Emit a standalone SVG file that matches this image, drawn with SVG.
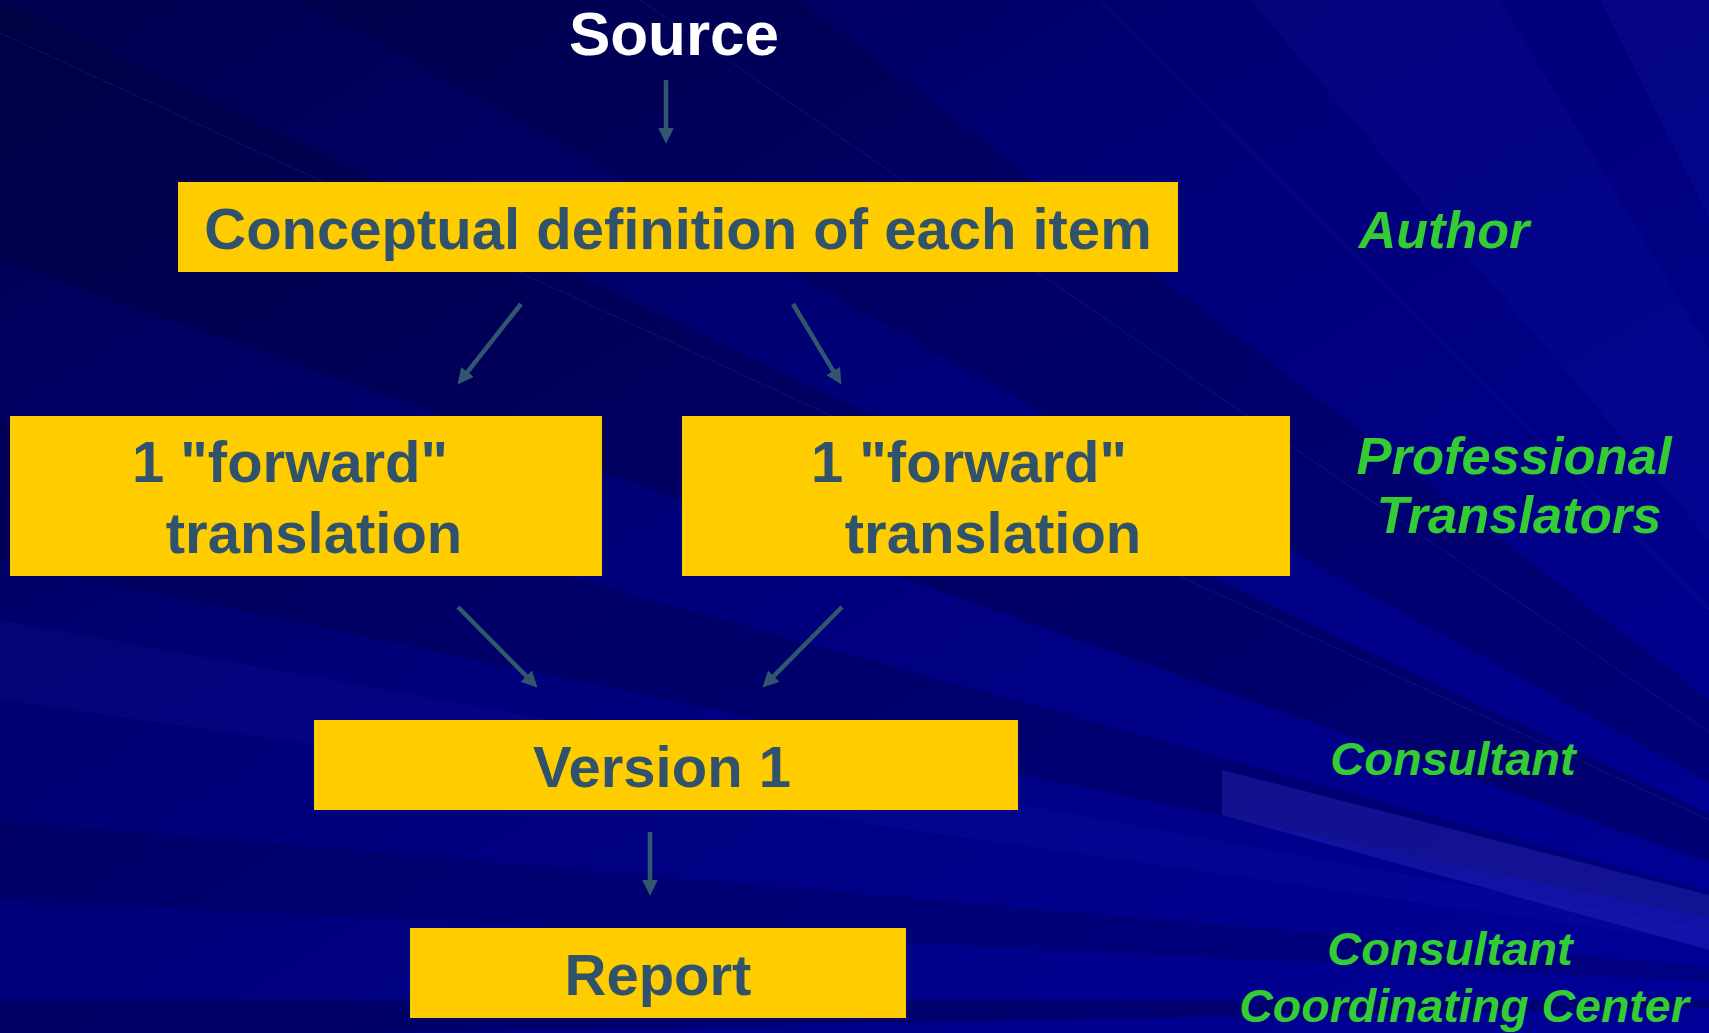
<svg xmlns="http://www.w3.org/2000/svg" width="1709" height="1033" viewBox="0 0 1709 1033">
  <defs>
    <linearGradient id="bg" x1="0" y1="0" x2="1" y2="1">
      <stop offset="0" stop-color="#00004e"/>
      <stop offset="0.45" stop-color="#00007a"/>
      <stop offset="1" stop-color="#000098"/>
    </linearGradient>
    <marker id="ah" viewBox="0 0 15 15" markerWidth="16" markerHeight="16" refX="5" refY="7.5" orient="auto" markerUnits="userSpaceOnUse">
      <path d="M0,0 L15,7.5 L0,15 z" fill="#33566f"/>
    </marker>
    <style>
      .box { fill: #ffcc00; }
      .t { font-family: "Liberation Sans", Arial, sans-serif; font-weight: bold; fill: #31526b; text-anchor: middle; font-size: 58px; }
      .src { font-family: "Liberation Sans", Arial, sans-serif; font-weight: bold; fill: #ffffff; text-anchor: middle; font-size: 62px; }
      .role { font-family: "Liberation Sans", Arial, sans-serif; font-weight: bold; font-style: italic; fill: #33cc33; text-anchor: middle; }
      .conn line { stroke: #33566f; stroke-width: 4.5; marker-end: url(#ah); }
    </style>
  </defs>

  <!-- background -->
  <rect x="0" y="0" width="1709" height="1033" fill="url(#bg)"/>
  <g id="background-rays">
    <polygon points="2100,1000 0,0 0,260" fill="#000030" opacity="0.3"/>
    <polygon points="2100,1000 300,0 800,0" fill="#000030" opacity="0.25"/>
    <polygon points="2100,1000 1250,0 1500,0" fill="#2a2ad0" opacity="0.1"/>
    <polygon points="2100,1000 1600,0 1709,0 1709,80" fill="#2a2ad0" opacity="0.12"/>
    <polygon points="2100,1000 0,420 0,560" fill="#000030" opacity="0.25"/>
    <polygon points="2100,1000 0,620 0,700" fill="#2a2ad0" opacity="0.1"/>
    <polygon points="2100,1000 0,820 0,900" fill="#000030" opacity="0.2"/>
    <polygon points="2100,1000 0,1040 0,1000" fill="#000030" opacity="0.3"/>
    <polygon points="1222,770 1709,895 1709,950 1222,815" fill="#3a3ad0" opacity="0.3"/>
    <line x1="0" y1="33" x2="2100" y2="1000" stroke="#5050c0" stroke-width="1" opacity="0.2"/>
    <line x1="640" y1="0" x2="2100" y2="1000" stroke="#5050c0" stroke-width="1" opacity="0.2"/>
    <line x1="1100" y1="0" x2="2100" y2="1000" stroke="#5050c0" stroke-width="1" opacity="0.2"/>
  </g>

  <g id="source">
    <text class="src" x="674" y="55">Source</text>
  </g>

  <g id="conceptual-definition">
    <rect class="box" x="178" y="182" width="1000" height="90"/>
    <text class="t" x="678" y="249">Conceptual definition of each item</text>
  </g>

  <g id="forward-translation-1">
    <rect class="box" x="10" y="416" width="592" height="160"/>
    <text class="t" x="290" y="482">1 "forward"</text>
    <text class="t" x="314" y="553">translation</text>
  </g>

  <g id="forward-translation-2">
    <rect class="box" x="682" y="416" width="608" height="160"/>
    <text class="t" x="969" y="482">1 "forward"</text>
    <text class="t" x="993" y="553">translation</text>
  </g>

  <g id="version-1">
    <rect class="box" x="314" y="720" width="704" height="90"/>
    <text class="t" x="662" y="787">Version 1</text>
  </g>

  <g id="report">
    <rect class="box" x="410" y="928" width="496" height="90"/>
    <text class="t" x="658" y="995">Report</text>
  </g>

  <g id="connectors" class="conn">
    <line x1="666" y1="80" x2="666" y2="133"/>
    <line x1="521" y1="304" x2="464.2" y2="376.1"/>
    <line x1="793" y1="304" x2="835.9" y2="375.4"/>
    <line x1="458" y1="607" x2="530" y2="679.9"/>
    <line x1="842" y1="607" x2="770" y2="679.9"/>
    <line x1="650" y1="832" x2="650" y2="885"/>
  </g>

  <g id="role-author">
    <text class="role" x="1444" y="248" font-size="52">Author</text>
  </g>
  <g id="role-translators">
    <text class="role" x="1514" y="474" font-size="52.5">Professional</text>
    <text class="role" x="1519" y="533" font-size="52.5">Translators</text>
  </g>
  <g id="role-consultant">
    <text class="role" x="1453" y="775" font-size="47">Consultant</text>
  </g>
  <g id="role-coordinating">
    <text class="role" x="1450" y="965" font-size="47">Consultant</text>
    <text class="role" x="1464" y="1022" font-size="46.5">Coordinating Center</text>
  </g>
</svg>
